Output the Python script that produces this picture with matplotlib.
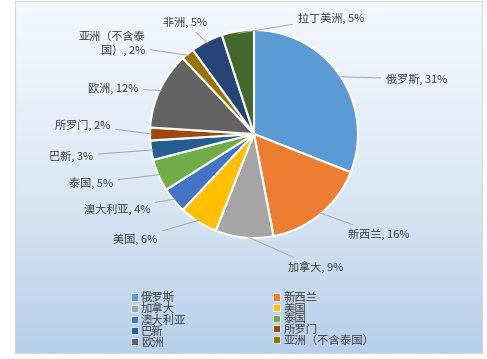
import matplotlib.pyplot as plt
import numpy as np
from matplotlib.colors import LinearSegmentedColormap
from matplotlib.patches import Patch

plt.rcParams['font.family'] = ['Noto Sans CJK SC', 'DejaVu Sans']

# data
labels = ['俄罗斯', '新西兰', '加拿大', '美国', '澳大利亚', '泰国', '巴新',
          '所罗门', '欧洲', '亚洲（不含泰国）', '非洲', '拉丁美洲']
values = [31, 16, 9, 6, 4, 5, 3, 2, 12, 2, 5, 5]
colors = ['#5B9BD5', '#ED7D31', '#A5A5A5', '#FFC000', '#4472C4', '#70AD47',
          '#255E91', '#9E480E', '#636363', '#997300', '#264478', '#43682B']
pie_text = ['俄罗斯, 31%', '新西兰, 16%', '加拿大, 9%', '美国, 6%', '澳大利亚, 4%',
            '泰国, 5%', '巴新, 3%', '所罗门, 2%', '欧洲, 12%', '亚洲（不含泰\n国）, 2%',
            '非洲, 5%', '拉丁美洲, 5%']

W, H = 487, 359
fig = plt.figure(figsize=(W / 100, H / 100), dpi=100)
fig.patch.set_facecolor('white')

# background gradient panel
bg = fig.add_axes([15 / W, 6 / H, 467 / W, 352 / H])
cmap = LinearSegmentedColormap.from_list('bg', ['#f4f8fd', '#dde9f5', '#b6cfea'])
grad = np.linspace(0, 1, 256).reshape(-1, 1)
bg.imshow(grad, aspect='auto', cmap=cmap, extent=[0, 1, 0, 1], origin='upper')
bg.set_xticks([])
bg.set_yticks([])
for s in bg.spines.values():
    s.set_color('#d9d9d9')
    s.set_linewidth(0.8)

# pie in pixel-like coordinates (y up)
ax = fig.add_axes([0, 0, 1, 1])
cx, cy, r = 254, H - 134, 104
wedges, _ = ax.pie(values, colors=colors, startangle=90, counterclock=False,
                   center=(cx, cy), radius=r, frame=True,
                   wedgeprops=dict(edgecolor='white', linewidth=1.5))
ax.set_xlim(0, W)
ax.set_ylim(0, H)
ax.set_aspect('equal')
ax.axis('off')

# label text anchor (pixel coords, y down) and alignment
label_pos = [
    (386, 79, 'left'), (348, 234, 'left'), (288, 267, 'left'), (157, 239, 'right'),
    (150, 209, 'right'), (113, 183, 'right'), (93, 156, 'right'), (110, 125, 'right'),
    (138, 88, 'right'), (145, 44, 'right'), (207, 22, 'right'), (298, 18, 'left'),
]
for w, txt, (tx, ty, ha) in zip(wedges, pie_text, label_pos):
    ang = np.deg2rad((w.theta1 + w.theta2) / 2)
    px = cx + r * 0.98 * np.cos(ang)
    py = cy + r * 0.98 * np.sin(ang)
    ax.annotate(txt, xy=(px, py), xytext=(tx, H - ty), ha=ha, va='center',
                fontsize=8, color='#404040', linespacing=1.3,
                arrowprops=dict(arrowstyle='-', color='#a6a6a6', lw=0.7,
                                shrinkA=2, shrinkB=0))

# legend: row-major order in two columns, matplotlib fills column-major
handles = [Patch(facecolor=c, edgecolor='white', linewidth=0.5) for c in colors[:10]]
order = [0, 2, 4, 6, 8, 1, 3, 5, 7, 9]
leg = fig.legend([handles[i] for i in order], [labels[i] for i in order],
                 ncol=2, loc='upper left', bbox_to_anchor=(125 / W, 1 - 286 / H),
                 frameon=False, fontsize=8.2, labelspacing=0.0, handlelength=0.6,
                 handleheight=0.6, handletextpad=0.3, columnspacing=7.6,
                 borderpad=0, labelcolor='#404040')

fig.savefig('out.png', dpi=100, facecolor='white')
